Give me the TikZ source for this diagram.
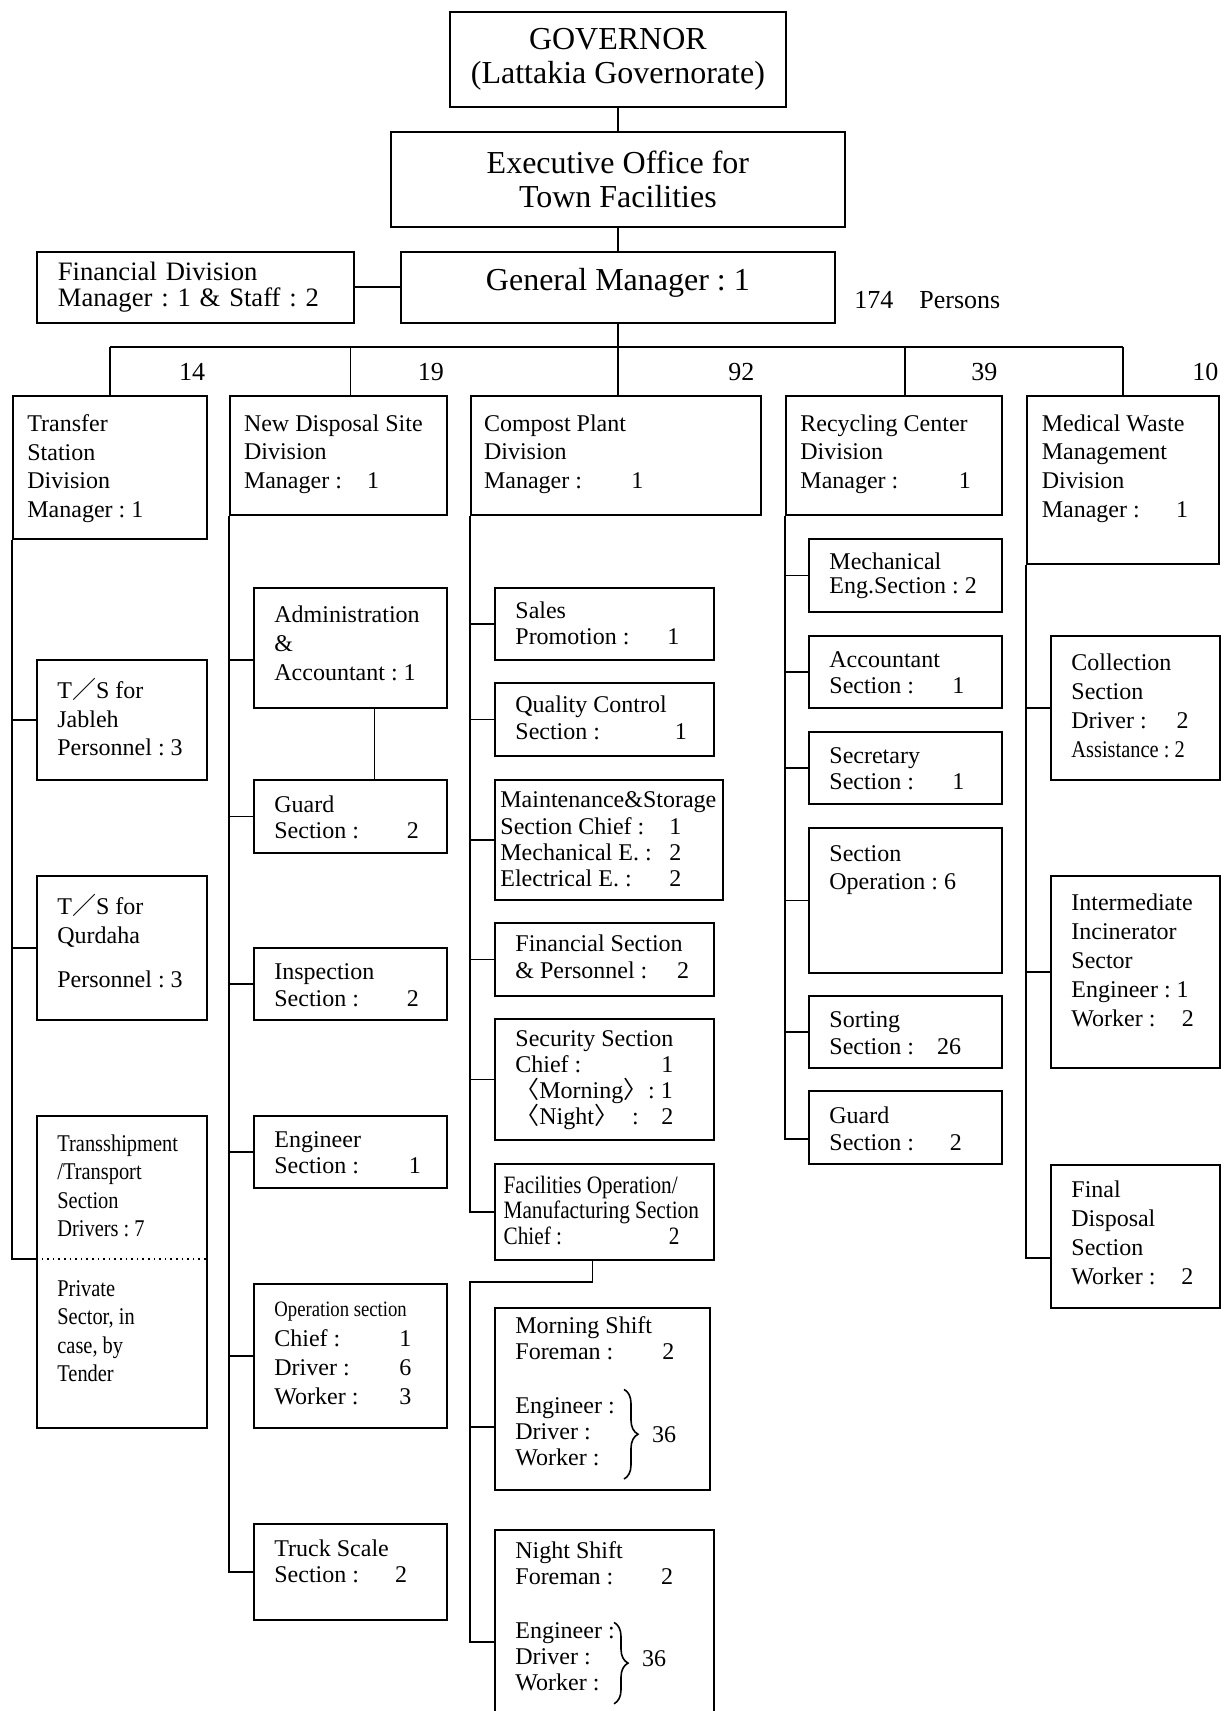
\documentclass[tikz,border=0pt]{standalone}
\usepackage{fontspec}
\setmainfont{Liberation Serif}
\newfontfamily\narrowfont[FakeStretch=0.85]{Liberation Serif}
\newfontfamily\cjk{Noto Sans CJK JP}
\usetikzlibrary{decorations.pathreplacing}
\frenchspacing
\tikzset{
  cellbox/.style={draw, line width=0.9pt, inner sep=0pt, anchor=north west},
  headbox/.style={cellbox, align=center, font=\fontsize{16}{17.4}\selectfont},
  celltxt/.style={anchor=north west, inner sep=0pt, align=left, xshift=#1, font=\fontsize{12}{13.1}\selectfont},
  celltxt/.default=10.5pt,
  loosetxt/.style={celltxt=#1, font=\fontsize{12}{14.4}\selectfont},
  loosetxt/.default=10.5pt,
  narrowtxt/.style={celltxt=#1, font=\narrowfont\fontsize{12}{14.2}\selectfont},
  narrowtxt/.default=10.5pt,
  wire/.style={line width=0.9pt},
  headcount/.style={inner sep=0pt, anchor=base west, font=\fontsize{13}{15}\selectfont},
  sumtxt/.style={inner sep=0pt, anchor=west, font=\fontsize{12}{13}\selectfont},
  bracket/.style={decorate, decoration={brace, amplitude=7pt}, line width=0.8pt},
}
\begin{document}
\begin{tikzpicture}[x=1pt,y=-1pt]
\path[use as bounding box, clip] (0,0) rectangle (614,855.5);
% head of the chart
\node[headbox, minimum width=168pt, minimum height=47.5pt] (gov) at (224.5,5.5) {GOVERNOR\\(Lattakia Governorate)};
\node[headbox, minimum width=227pt, minimum height=47.5pt] (exe) at (195,65.5) {Executive Office for\\Town Facilities};
\node[headbox, minimum width=217pt, minimum height=35.5pt, text height=14.5pt, text depth=11pt] (gm) at (200,125.5) {General Manager : 1};
\node[headbox, align=left, text width=137.5pt, minimum width=158.5pt, minimum height=35.5pt, font=\fontsize{13.3}{13}\selectfont] (fin) at (18,125.5) {Financial Division\\Manager : 1 \& Staff : 2};
\node[headcount] (total) at (427,154.5) {174\quad Persons};
\draw[wire] (gov.south) -- (gov.south |- exe.north);
\draw[wire] (exe.south) -- (exe.south |- gm.north);
\draw[wire] (fin.east) -- (gm.west);

% divisions
\node[cellbox, minimum width=97pt, minimum height=71.5pt, label={[loosetxt=7.5pt, yshift=-9.5pt]north west:{Transfer\\Station\\Division\\Manager : 1}}] (tsd) at (6,197.5) {};
\node[cellbox, minimum width=108.5pt, minimum height=59.5pt, label={[loosetxt=7.3pt, yshift=-9.5pt]north west:{New Disposal Site\\Division\\\makebox[61.6pt][l]{Manager :}1}}] (nds) at (114.5,197.5) {};
\node[cellbox, minimum width=145pt, minimum height=59.5pt, label={[loosetxt=6.8pt, yshift=-9.5pt]north west:{Compost Plant\\Division\\\makebox[73.7pt][l]{Manager :}1}}] (cpd) at (235,197.5) {};
\node[cellbox, minimum width=108pt, minimum height=59.5pt, label={[loosetxt=7.5pt, yshift=-9.5pt]north west:{Recycling Center\\Division\\\makebox[79.2pt][l]{Manager :}1}}] (rcd) at (392.5,197.5) {};
\node[cellbox, minimum width=96pt, minimum height=84pt, label={[loosetxt=7.7pt, yshift=-9.5pt]north west:{Medical Waste\\Management\\Division\\\makebox[67.2pt][l]{Manager :}1}}] (mwd) at (513,197.5) {};
\coordinate (bus) at (0,173.5);
\coordinate (ndsn) at ([xshift=6pt]nds.north);
\coordinate (rcdn) at ([xshift=5.5pt]rcd.north);
\draw[wire] (gm.south) -- (gm.south |- cpd.north);
\draw[wire] (tsd.north |- bus) -- (mwd.north |- bus);
\foreach \d in {tsd.north,ndsn,rcdn,mwd.north} \draw[wire] (\d) -- (\d |- bus);
\node[headcount] (c14) at (89.3,190.5) {14};
\node[headcount] (c19) at (208.7,190.5) {19};
\node[headcount] (c92) at (364,190.5) {92};
\node[headcount] (c39) at (485.5,190.5) {39};
\node[headcount] (c10) at (596,190.5) {10};

% transfer station
\node[cellbox, minimum width=85pt, minimum height=60pt, label={[loosetxt, yshift=-9.3pt]north west:{T{\cjk ／}S for\\Jableh\\Personnel : 3}}] (tsj) at (18,329.5) {};
\node[cellbox, minimum width=85pt, minimum height=72pt, label={[loosetxt, yshift=-9.3pt]north west:{T{\cjk ／}S for\\Qurdaha\\[8pt]Personnel : 3}}] (tsq) at (18,437.5) {};
\node[cellbox, minimum width=85pt, minimum height=156pt,
  label={[narrowtxt, yshift=-9.7pt]north west:{Transshipment\\/Transport\\Section\\Drivers : 7}},
  label={[narrowtxt, yshift=-82.5pt]north west:{Private\\Sector, in\\case, by\\Tender}}] (tss) at (18,557.5) {};
\coordinate (tsdot) at (18,629.5);
\draw[dotted, line width=0.8pt] (tsdot) -- (tsdot -| tss.east);
\draw[wire] (tsd.south west) |- (tsdot);
\foreach \s in {tsj,tsq} \draw[wire] (\s.west) -- (\s.west -| tsd.south west);

% new disposal site
\node[cellbox, minimum width=96.5pt, minimum height=60pt, label={[loosetxt, yshift=-9.2pt]north west:{Administration\\\&\\Accountant : 1}}] (adm) at (126.5,293.5) {};
\node[cellbox, minimum width=96.5pt, minimum height=36.5pt, label={[celltxt, yshift=-8.2pt]north west:{Guard\\\makebox[66.2pt][l]{Section :}2}}] (grd) at (126.5,389.5) {};
\node[cellbox, minimum width=96.5pt, minimum height=36pt, label={[celltxt, yshift=-8.3pt]north west:{Inspection\\\makebox[66.2pt][l]{Section :}2}}] (ins) at (126.5,473.5) {};
\node[cellbox, minimum width=96.5pt, minimum height=36pt, label={[celltxt, yshift=-8.1pt]north west:{Engineer\\\makebox[67.3pt][l]{Section :}1}}] (eng) at (126.5,557.5) {};
\node[cellbox, minimum width=96.5pt, minimum height=72pt, label={[celltxt, yshift=-9.5pt, font=\fontsize{12}{14.6}\selectfont]north west:{{\narrowfont\fontsize{11}{14.6}\selectfont Operation section}\\\makebox[62.5pt][l]{Chief :}1\\\makebox[62.5pt][l]{Driver :}6\\\makebox[62.5pt][l]{Worker :}3}}] (ops) at (126.5,641.5) {};
\node[cellbox, minimum width=96.5pt, minimum height=48pt, label={[celltxt, yshift=-8.3pt]north west:{Truck Scale\\\makebox[60.4pt][l]{Section :}2}}] (trk) at (126.5,761.5) {};
\coordinate (admc) at ([yshift=-6pt]adm.west);
\draw[wire] (nds.south west) |- (trk.west);
\draw[wire] (admc) -- (admc -| nds.south west);
\foreach \s in {grd,ins,eng,ops} \draw[wire] (\s.west) -- (\s.west -| nds.south west);
\draw[wire] ([xshift=12pt]adm.south) -- ([xshift=12pt]grd.north);

% compost plant
\node[cellbox, minimum width=109.5pt, minimum height=36pt, label={[celltxt, yshift=-7.2pt]north west:{Sales\\\makebox[76pt][l]{Promotion :}1}}] (sal) at (247,293.5) {};
\node[cellbox, minimum width=109.5pt, minimum height=36.5pt, label={[celltxt, yshift=-6.5pt, font=\fontsize{12}{13.6}\selectfont]north west:{Quality Control\\\makebox[79.7pt][l]{Section :}1}}] (qc) at (247,341) {};
\node[cellbox, minimum width=114pt, minimum height=60pt, label={[celltxt=3pt, yshift=-6.3pt]north west:{Maintenance\&Storage\\\makebox[84.5pt][l]{Section Chief :}1\\\makebox[84.5pt][l]{Mechanical E. :}2\\\makebox[84.5pt][l]{Electrical E. :}2}}] (mst) at (247,389.5) {};
\node[cellbox, minimum width=109.5pt, minimum height=36.5pt, label={[celltxt, yshift=-6.1pt, font=\fontsize{12}{13.6}\selectfont]north west:{Financial Section\\\makebox[80.8pt][l]{\& Personnel :}2}}] (fsc) at (247,461) {};
\node[cellbox, minimum width=109.5pt, minimum height=60.5pt, label={[celltxt, yshift=-6pt]north west:{Security Section\\\makebox[73pt][l]{Chief :}1\\\makebox[66.4pt][l]{{\cjk 〈}Morning{\cjk 〉}}: 1\\\makebox[58.4pt][l]{{\cjk 〈}Night{\cjk 〉}}\makebox[14.6pt][l]{:}2}}] (sec) at (247,509) {};
\node[cellbox, minimum width=109.5pt, minimum height=48pt, label={[narrowtxt=4.6pt, yshift=-6.5pt, font=\narrowfont\fontsize{12.5}{12.6}\selectfont]north west:{Facilities Operation/\\Manufacturing Section\\\makebox[82.6pt][l]{Chief :}2}}] (fac) at (247,581.5) {};
\node[cellbox, minimum width=107.5pt, minimum height=91pt, label={[celltxt, yshift=-4.6pt]north west:{Morning Shift\\\makebox[73.5pt][l]{Foreman :}2\\[13.6pt]Engineer :\\Driver :\\Worker :}}] (msh) at (247,653.5) {};
\node[cellbox, minimum width=109.5pt, minimum height=100pt, label={[celltxt, yshift=-6.1pt]north west:{Night Shift\\\makebox[72.9pt][l]{Foreman :}2\\[13.6pt]Engineer :\\Driver :\\Worker :}}] (nsh) at (247,764.5) {};
\draw[bracket] (312,694.7) -- (312,739.5);
\node[sumtxt] (msum) at (325.8,717.5) {36};
\draw[bracket] (307,811.2) -- (307,851.9);
\node[sumtxt] (nsum) at (320.8,829.5) {36};
\draw[wire] (cpd.south west) |- (fac.west);
\foreach \s in {sal,qc,mst,fsc,sec} \draw[wire] (\s.west) -- (\s.west -| cpd.south west);
\coordinate (facb) at ([xshift=-6pt]fac.south);
\coordinate (fork) at (235,641);
\coordinate (mshc) at ([yshift=-60pt]msh.north west);
\coordinate (nshc) at ([yshift=-56.5pt]nsh.north west);
\draw[wire] (facb) |- (fork) |- (nshc);
\draw[wire] (mshc) -- (mshc -| fork);

% recycling center
\node[cellbox, minimum width=96.5pt, minimum height=36.5pt, label={[celltxt, yshift=-7pt, font=\fontsize{12}{12}\selectfont]north west:{Mechanical\\Eng.Section : 2}}] (mec) at (404,269) {};
\node[cellbox, minimum width=96.5pt, minimum height=36pt, label={[celltxt, yshift=-8.1pt]north west:{Accountant\\\makebox[61.5pt][l]{Section :}1}}] (acc) at (404,317.5) {};
\node[cellbox, minimum width=96.5pt, minimum height=36pt, label={[celltxt, yshift=-8.2pt]north west:{Secretary\\\makebox[61.5pt][l]{Section :}1}}] (scr) at (404,365.5) {};
\node[cellbox, minimum width=96.5pt, minimum height=72.5pt, label={[celltxt, yshift=-9.1pt, font=\fontsize{12}{14.2}\selectfont]north west:{Section\\Operation : 6}}] (sop) at (404,413.5) {};
\node[cellbox, minimum width=96.5pt, minimum height=36pt, label={[celltxt, yshift=-8.3pt]north west:{Sorting\\\makebox[53.9pt][l]{Section :}26}}] (srt) at (404,497.5) {};
\node[cellbox, minimum width=96.5pt, minimum height=36.5pt, label={[celltxt, yshift=-8.3pt, font=\fontsize{12}{13.6}\selectfont]north west:{Guard\\\makebox[60.2pt][l]{Section :}2}}] (rgd) at (404,545) {};
\coordinate (rgdc) at ([yshift=-24.5pt]rgd.north west);
\draw[wire] (rcd.south west) |- (rgdc);
\foreach \s in {mec,acc,scr,sop,srt} \draw[wire] (\s.west) -- (\s.west -| rcd.south west);

% medical waste management
\node[cellbox, minimum width=84.5pt, minimum height=72pt, label={[celltxt, yshift=-9pt, font=\fontsize{12}{14.6}\selectfont]north west:{Collection\\Section\\\makebox[52.6pt][l]{Driver :}2\\{\narrowfont Assistance : 2}}}] (col) at (525,317.5) {};
\node[cellbox, minimum width=84.5pt, minimum height=96pt, label={[celltxt, yshift=-9pt, font=\fontsize{12}{14.6}\selectfont]north west:{Intermediate\\Incinerator\\Sector\\Engineer : 1\\\makebox[55.2pt][l]{Worker :}2}}] (inc) at (525,437.5) {};
\node[cellbox, minimum width=84.5pt, minimum height=71.5pt, label={[loosetxt, yshift=-8.4pt]north west:{Final\\Disposal\\Section\\\makebox[55pt][l]{Worker :}2}}] (fds) at (525,582) {};
\coordinate (fdsc) at ([yshift=-47pt]fds.north west);
\draw[wire] (mwd.south west) |- (fdsc);
\foreach \s in {col,inc} \draw[wire] (\s.west) -- (\s.west -| mwd.south west);
\end{tikzpicture}
\end{document}
